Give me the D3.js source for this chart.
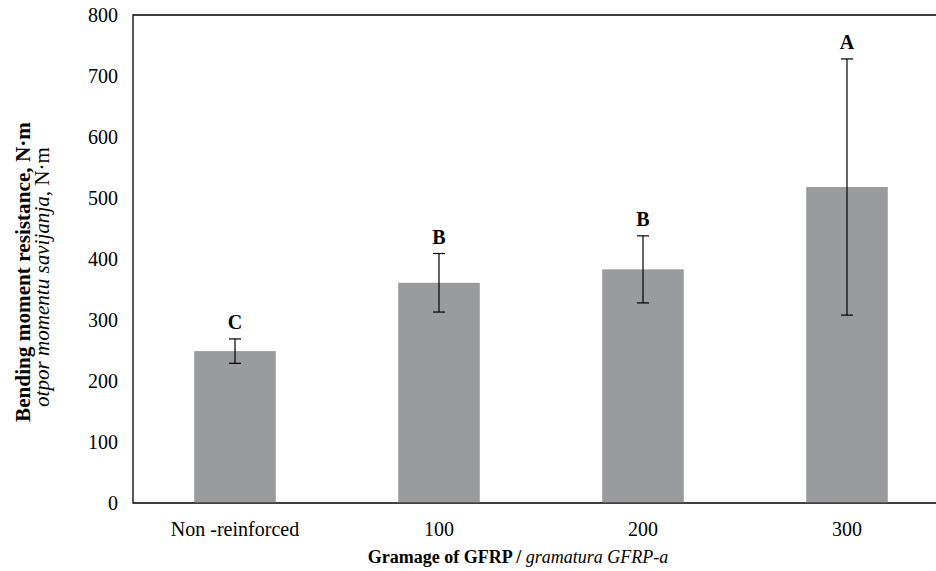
<!DOCTYPE html>
<html>
<head>
<meta charset="utf-8">
<script src="https://cdn.jsdelivr.net/npm/d3@7"></script>
<style>
  body { margin: 0; background: #fff; }
  svg { display: block; font-family: 'Liberation Serif', 'Times New Roman', serif; }
</style>
</head>
<body>
<div id="chart"></div>
<script>
let categories = ['Non -reinforced', '100', '200', '300']
let means = [249, 361, 383, 518]
let errors = [20, 48, 55, 210]
let letters = ['C', 'B', 'B', 'A']
let yTicks = [0, 100, 200, 300, 400, 500, 600, 700, 800]

let margin = { top: 15, left: 133, right: -13, bottom: 68 }
let width = 936 - margin.left - margin.right
let height = 571 - margin.top - margin.bottom

let svg = d3
  .select('#chart')
  .append('svg')
  .attr('width', 936)
  .attr('height', 571)
  .append('g')
  .attr('transform', 'translate(' + margin.left + ',' + margin.top + ')')

let x = d3.scaleBand()
  .domain(categories)
  .range([0, width])
  .paddingInner(0.6)
  .paddingOuter(0.3)

let y = d3.scaleLinear().domain([0, 800]).range([height, 0])

// frame (left, top, bottom)
svg.append('path')
  .attr('d', `M${width},0H0V${height}H${width}`)
  .attr('fill', 'none')
  .attr('stroke', '#000')
  .attr('stroke-width', 1.3)

let yAxis = svg.append('g')
  .call(d3.axisLeft(y).tickValues(yTicks).tickSize(0).tickPadding(15))
yAxis.attr('font-family', null)
yAxis.select('.domain').remove()
yAxis.selectAll('text')
  .attr('font-size', 20)
  .attr('fill', '#000')

let xAxis = svg.append('g')
  .attr('transform', `translate(0,${height})`)
  .call(d3.axisBottom(x).tickSize(0).tickPadding(19))
xAxis.attr('font-family', null)
xAxis.select('.domain').remove()
xAxis.selectAll('text')
  .attr('font-size', 20)
  .attr('fill', '#000')

// bars
svg.selectAll('.bar')
  .data(categories)
  .enter()
  .append('rect')
  .attr('class', 'bar')
  .attr('x', d => x(d))
  .attr('width', x.bandwidth())
  .attr('y', (d, i) => y(means[i]))
  .attr('height', (d, i) => height - y(means[i]) - 0.7)
  .attr('fill', '#9a9b9f')

// error bars
let err = svg.selectAll('.err')
  .data(categories)
  .enter()
  .append('g')
  .attr('class', 'err')
  .attr('stroke', '#000')
  .attr('stroke-width', 1.2)

err.append('line')
  .attr('x1', d => x(d) + x.bandwidth() / 2)
  .attr('x2', d => x(d) + x.bandwidth() / 2)
  .attr('y1', (d, i) => y(means[i] + errors[i]))
  .attr('y2', (d, i) => y(means[i] - errors[i]))

err.append('line')
  .attr('x1', d => x(d) + x.bandwidth() / 2 - 6)
  .attr('x2', d => x(d) + x.bandwidth() / 2 + 6)
  .attr('y1', (d, i) => y(means[i] + errors[i]))
  .attr('y2', (d, i) => y(means[i] + errors[i]))

err.append('line')
  .attr('x1', d => x(d) + x.bandwidth() / 2 - 6)
  .attr('x2', d => x(d) + x.bandwidth() / 2 + 6)
  .attr('y1', (d, i) => y(means[i] - errors[i]))
  .attr('y2', (d, i) => y(means[i] - errors[i]))

// significance letters
svg.selectAll('.letter')
  .data(categories)
  .enter()
  .append('text')
  .attr('class', 'letter')
  .attr('x', d => x(d) + x.bandwidth() / 2)
  .attr('y', (d, i) => y(means[i] + errors[i]) - 10)
  .attr('text-anchor', 'middle')
  .attr('font-size', 20)
  .attr('font-weight', 'bold')
  .text((d, i) => letters[i])

// x title
let xt = svg.append('text')
  .attr('x', 385)
  .attr('y', height + 60)
  .attr('text-anchor', 'middle')
  .attr('font-size', 18)
xt.append('tspan').attr('font-weight', 'bold').text('Gramage of GFRP / ')
xt.append('tspan').attr('font-style', 'italic').text('gramatura GFRP-a')

// y title
let yt = svg.append('g')
  .attr('transform', `translate(${-103},${255}) rotate(-90)`)
yt.append('text')
  .attr('text-anchor', 'middle')
  .attr('font-size', 21)
  .attr('font-weight', 'bold')
  .attr('x', -2)
  .attr('textLength', 300)
  .attr('lengthAdjust', 'spacingAndGlyphs')
  .text('Bending moment resistance, N·m')
let y2 = yt.append('text')
  .attr('text-anchor', 'middle')
  .attr('font-size', 21)
  .attr('x', -7)
  .attr('y', 19)
  .attr('textLength', 260)
  .attr('lengthAdjust', 'spacingAndGlyphs')
y2.append('tspan').attr('font-style', 'italic').text('otpor momentu savijanja, ')
y2.append('tspan').text('N·m')
</script>
</body>
</html>
